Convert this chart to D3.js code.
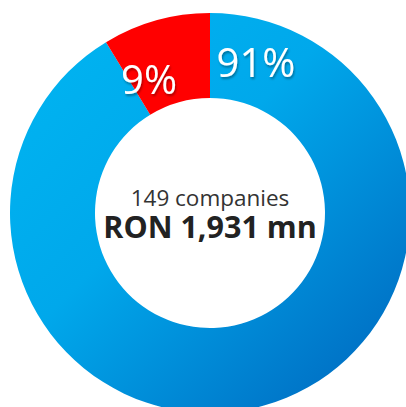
<!DOCTYPE html>
<html><head><meta charset="utf-8">
<script src="https://cdn.jsdelivr.net/npm/d3@7"></script>
<style>
html,body{margin:0;padding:0;background:#fff;}
svg{display:block;}
</style></head>
<body>
<svg id="c" width="406" height="407"></svg>
<script>
const categories = ["Other", "Share"];
const values = [91.3, 8.7];
const labels = ["91%", "9%"];
const centerLine1 = "149 companies";
const centerLine2 = "RON 1,931 mn";

const svg = d3.select("#c");
const cx = 210, cy = 213, outerR = 200, innerR = 115;
const defs = svg.append("defs");
const grad = defs.append("linearGradient").attr("id","g")
  .attr("gradientUnits","userSpaceOnUse")
  .attr("x1", -outerR*0.75).attr("y1", -outerR*0.75)
  .attr("x2", outerR*0.75).attr("y2", outerR*0.75);
grad.append("stop").attr("offset","0").attr("stop-color","#00b2f0");
grad.append("stop").attr("offset","0.4").attr("stop-color","#00a8eb");
grad.append("stop").attr("offset","1").attr("stop-color","#0072c6");
const f = defs.append("filter").attr("id","sh").attr("x","-20%").attr("y","-20%").attr("width","140%").attr("height","140%");
f.append("feDropShadow").attr("dx",1).attr("dy",2).attr("stdDeviation",1.2).attr("flood-color","#000").attr("flood-opacity",0.35);

const colors = ["url(#g)", "#ff0000"];
const pie = d3.pie().sort(null).value(d => d)
  .startAngle(0).endAngle(2*Math.PI);
const arcs = pie(values);
const arc = d3.arc().innerRadius(innerR).outerRadius(outerR);
const g = svg.append("g").attr("transform", `translate(${cx},${cy})`);
g.selectAll("path.s").data(arcs).join("path").attr("class","s")
  .attr("d", arc).attr("fill", (d,i) => colors[i]);

const labelPos = [[256, 77], [149, 94]];
g.selectAll("text.l").data(arcs).join("text").attr("class","l")
  .attr("x", (d,i) => labelPos[i][0] - cx).attr("y", (d,i) => labelPos[i][1] - cy)
  .attr("text-anchor","middle")
  .attr("font-family","'Open Sans', sans-serif").attr("font-size", 40)
  .attr("fill","#fff").attr("filter","url(#sh)")
  .text((d,i) => labels[i]);

g.append("text").attr("x",0).attr("y",206-cy).attr("text-anchor","middle")
  .attr("font-family","'Open Sans', sans-serif").attr("font-size",22.5).attr("fill","#333")
  .text(centerLine1);
g.append("text").attr("x",0).attr("y",238-cy).attr("text-anchor","middle")
  .attr("font-family","'Open Sans', sans-serif").attr("font-weight","bold").attr("font-size",30.5).attr("fill","#222")
  .text(centerLine2);
</script>
</body></html>
